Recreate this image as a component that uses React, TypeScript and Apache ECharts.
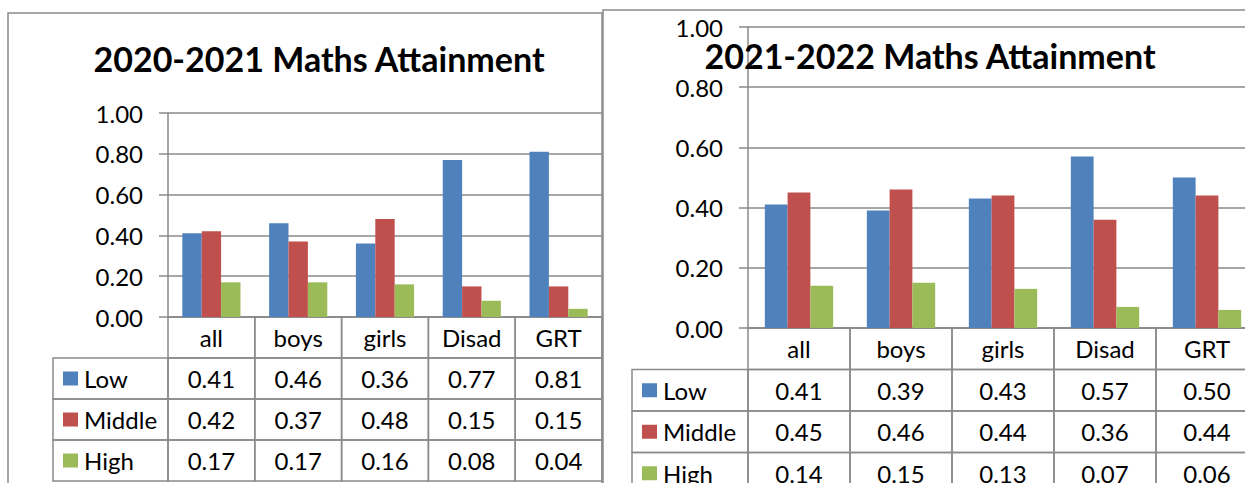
import React, { useEffect, useRef } from 'react';
import * as echarts from 'echarts';

const categories = ['all', 'boys', 'girls', 'Disad', 'GRT'];
const seriesNames = ['Low', 'Middle', 'High'];
const tableRows = ['', 'Low', 'Middle', 'High'];
const colors = ['#4F81BD', '#C0504D', '#9BBB59'];

const low2021 = [0.41, 0.46, 0.36, 0.77, 0.81];
const middle2021 = [0.42, 0.37, 0.48, 0.15, 0.15];
const high2021 = [0.17, 0.17, 0.16, 0.08, 0.04];

const low2122 = [0.41, 0.39, 0.43, 0.57, 0.5];
const middle2122 = [0.45, 0.46, 0.44, 0.36, 0.44];
const high2122 = [0.14, 0.15, 0.13, 0.07, 0.06];

const title2021 = '2020-2021 Maths Attainment';
const title2122 = '2021-2022 Maths Attainment';

const LINE = '#8a8a8a';
const FONT = 'Lato';
const FS = 24;

type Cell = { col: number; row: number; text: string; kind: 'head' | 'value' | 'legend'; color?: string };

function buildCells(values: number[][]): Cell[] {
  const cells: Cell[] = [];
  categories.forEach((c, ci) => cells.push({ col: ci, row: 0, text: c, kind: 'head' }));
  values.forEach((arr, si) => {
    cells.push({ col: 0, row: si + 1, text: seriesNames[si], kind: 'legend', color: colors[si] });
    arr.forEach((v, ci) => cells.push({ col: ci, row: si + 1, text: v.toFixed(2), kind: 'value' }));
  });
  return cells;
}

const panels = [
  {
    title: title2021,
    values: [low2021, middle2021, high2021],
    plot: { left: 168, top: 113, width: 434, height: 204 },
    table: { left: 168, top: 317, width: 434, height: 164 },
    legendW: 115,
    titleX: 319,
    titleY: 58,
    box: { x: 8, y: 13, width: 594, height: 490 },
  },
  {
    title: title2122,
    values: [low2122, middle2122, high2122],
    plot: { left: 748, top: 27, width: 510, height: 301 },
    table: { left: 748, top: 328, width: 510, height: 166 },
    legendW: 116,
    titleX: 930,
    titleY: 55,
    box: { x: 603, y: 10, width: 700, height: 490 },
  },
];

export default function App() {
  const ref = useRef<HTMLDivElement>(null);
  useEffect(() => {
    if (!ref.current) return;
    const chart = echarts.init(ref.current, null, { renderer: 'svg' });
    const grid: any[] = [];
    const xAxis: any[] = [];
    const yAxis: any[] = [];
    const series: any[] = [];
    const graphic: any[] = [];

    panels.forEach((p, pi) => {
      const gPlot = pi * 2;
      const gTable = pi * 2 + 1;
      grid.push({ ...p.plot, containLabel: false, outerBoundsMode: 'none' });
      grid.push({ ...p.table, containLabel: false, outerBoundsMode: 'none' });
      xAxis.push({
        gridIndex: gPlot,
        type: 'category',
        data: categories,
        axisLine: { show: true, lineStyle: { color: LINE, width: 1.5 } },
        axisTick: { show: false },
        axisLabel: { show: false },
        splitLine: { show: false },
      });
      xAxis.push({ gridIndex: gTable, type: 'category', data: categories, show: false });
      yAxis.push({
        gridIndex: gPlot,
        type: 'value',
        min: 0,
        max: 1,
        interval: 0.2,
        axisLine: { show: true, lineStyle: { color: LINE, width: 1.5 } },
        axisTick: { show: true, length: 9, lineStyle: { color: LINE, width: 1.5 } },
        axisLabel: {
          formatter: (v: number) => v.toFixed(2),
          fontSize: FS,
          fontFamily: FONT,
          color: '#000',
          margin: 25,
        },
        splitLine: { show: true, lineStyle: { color: LINE, width: 1.5 } },
      });
      yAxis.push({ gridIndex: gTable, type: 'category', data: tableRows, inverse: true, show: false });

      p.values.forEach((arr, si) => {
        series.push({
          type: 'bar',
          name: seriesNames[si],
          xAxisIndex: gPlot,
          yAxisIndex: gPlot,
          data: arr,
          barGap: '0%',
          barCategoryGap: '33%',
          itemStyle: { color: colors[si] },
        });
      });

      const cells = buildCells(p.values);
      const legendW = p.legendW;
      series.push({
        type: 'custom',
        xAxisIndex: gTable,
        yAxisIndex: gTable,
        clip: false,
        data: cells.map((c) => [c.col, c.row]),
        renderItem: (params: any, api: any) => {
          const cell = cells[params.dataIndex];
          const center = api.coord([cell.col, cell.row]);
          const size = api.size([1, 1]);
          const h = size[1];
          const y0 = center[1] - h / 2;
          if (cell.kind === 'legend') {
            const x0 = params.coordSys.x - legendW;
            return {
              type: 'group',
              children: [
                { type: 'rect', shape: { x: x0, y: y0, width: legendW, height: h }, style: { fill: 'none', stroke: LINE, lineWidth: 1.5 } },
                { type: 'rect', shape: { x: x0 + 10, y: center[1] - 7, width: 15, height: 14 }, style: { fill: cell.color } },
                {
                  type: 'text',
                  style: {
                    text: cell.text, x: x0 + 31, y: center[1],
                    align: 'left', verticalAlign: 'middle', textAlign: 'left', textVerticalAlign: 'middle',
                    fontSize: FS, fontFamily: FONT, fill: '#000',
                  },
                },
              ],
            };
          }
          const w = size[0];
          const x0 = center[0] - w / 2;
          return {
            type: 'group',
            children: [
              { type: 'rect', shape: { x: x0, y: y0, width: w, height: h }, style: { fill: 'none', stroke: LINE, lineWidth: 1.5 } },
              {
                type: 'text',
                style: {
                  text: cell.text, x: center[0], y: center[1],
                  align: 'center', verticalAlign: 'middle', textAlign: 'center', textVerticalAlign: 'middle',
                  fontSize: FS, fontFamily: FONT, fill: '#000',
                },
              },
            ],
          };
        },
      });

      graphic.push({
        type: 'rect',
        shape: { ...p.box },
        style: { fill: 'none', stroke: LINE, lineWidth: 1.5 },
        z: 50,
      });
      graphic.push({
        type: 'text',
        x: p.titleX,
        y: p.titleY,
        z: 100,
        style: {
          text: p.title,
          align: 'center', verticalAlign: 'middle', textAlign: 'center', textVerticalAlign: 'middle',
          fontSize: 34, fontWeight: 'bold', fontFamily: FONT, fill: '#000',
        },
      });
    });

    chart.setOption({
      animation: false,
      backgroundColor: '#fff',
      grid,
      xAxis,
      yAxis,
      series,
      graphic,
    });
    return () => chart.dispose();
  }, []);
  return <div ref={ref} style={{ position: 'absolute', left: 0, top: 0, width: 1245, height: 483 }} />;
}
